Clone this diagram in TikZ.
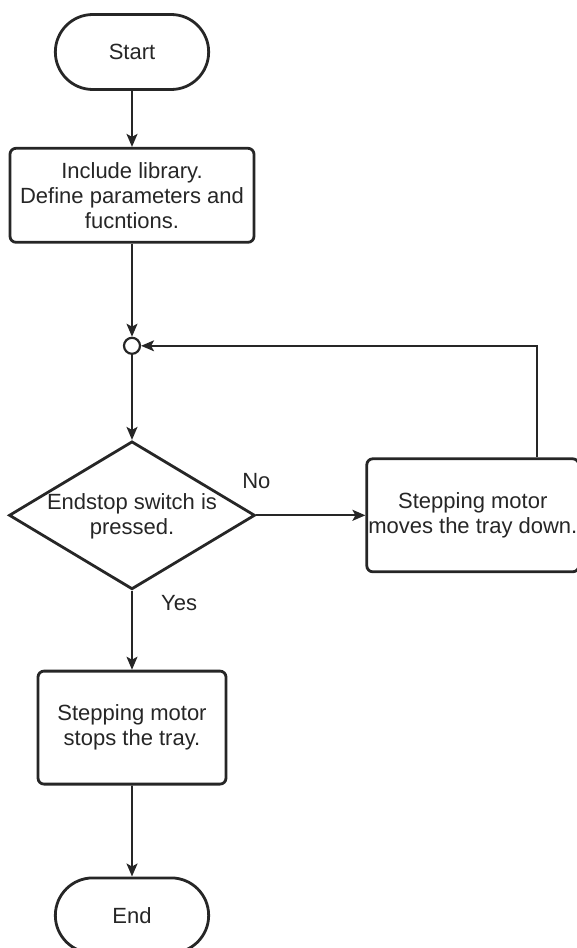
\documentclass[tikz,border=0pt]{standalone}
\usepackage{fontspec}
\setmainfont{Liberation Sans}
\usetikzlibrary{shapes.geometric, shapes.misc, arrows.meta, positioning}

\begin{document}
\begin{tikzpicture}[
    x=1pt, y=1pt,
    node distance=56pt,
    every node/.style={font=\fontsize{22}{25}\selectfont, text=black!85},
    term/.style={rounded rectangle, draw=black!85, line width=2.8pt,
                 minimum width=160pt, minimum height=75pt},
    box/.style={rectangle, draw=black!85, rounded corners=6pt, line width=2.8pt,
                align=center, inner xsep=2pt},
    decision/.style={diamond, draw=black!85, line width=2.8pt, inner sep=0pt,
                     minimum width=246pt, minimum height=148pt},
    junction/.style={circle, draw=black!85, line width=2.2pt, inner sep=0pt,
                     minimum size=16pt},
    arrow/.style={-{Stealth[length=13pt, width=11pt, inset=3pt]},
                  line width=1.8pt, draw=black!85},
    answer/.style={inner sep=2pt}
]
\useasboundingbox (0,0) rectangle (576,-948);

%% ── Main column ─────────────────────────────────────────────────────────────
\node[term] at (132,-52)                              (start)   {Start};
\node[box, below=56pt of start, minimum width=244pt,
      minimum height=94pt]                              (include)
      {Include library.\\Define parameters and\\fucntions.};
\node[junction, below=93pt of include]                (junc)    {};
\node[decision, below=85pt of junc]                   (check)   {};
\node[align=center, yshift=-1pt] at (check)           (checktxt)
      {Endstop switch is\\pressed.};
\node[box, below=79pt of check, minimum width=188pt,
      minimum height=113pt]                             (stops)
      {Stepping motor\\stops the tray.};
\node[term, below=91pt of stops]                      (end)     {End};

\draw[arrow] (start)   -- (include);
\draw[arrow] (include) -- (junc);
\draw[arrow] (junc)    -- (check);
\draw[arrow] (check)   -- (stops);
\draw[arrow] (stops)   -- (end);

%% ── No branch and loop back ─────────────────────────────────────────────────
\node[box, right=109pt of check, minimum width=212pt,
      minimum height=113pt, inner xsep=1pt]             (moves)
      {Stepping motor\\moves the tray down.};

\draw[arrow] (check.east) -- (moves);
\draw[arrow, line width=1.5pt] ([xshift=64pt]moves.north) |- (junc);

% Branch labels
\node[answer, above=24pt of check.east]               (no)      {No};
\node[answer, right=27pt of check.south, yshift=-12pt] (yes)    {Yes};

\end{tikzpicture}
\end{document}
